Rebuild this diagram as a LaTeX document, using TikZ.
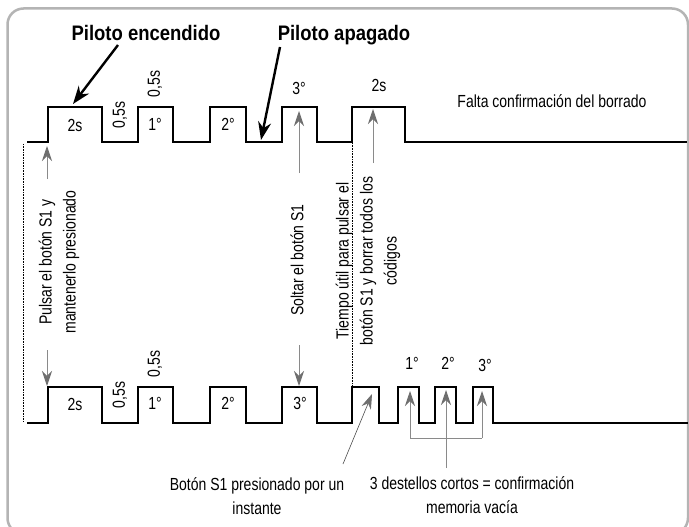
\documentclass[tikz,border=0pt]{standalone}
\usepackage{fontspec}
\setmainfont{Liberation Sans}[FakeStretch=0.8]
\newfontfamily\titlefont{Liberation Sans}[FakeStretch=0.88]
\usetikzlibrary{arrows.meta}
\definecolor{framegray}{HTML}{B4B4B4}
\definecolor{arrgray}{HTML}{8A8A8A}
\definecolor{headgray}{HTML}{6E6E6E}
\tikzset{
  wave/.style={line width=2.4pt, line join=miter},
  lbl/.style={font=\fontsize{17.5}{24}\selectfont, inner sep=0pt},
  rlbl/.style={lbl, rotate=90},
  titlelbl/.style={font=\titlefont\bfseries\fontsize{21}{24}\selectfont, inner sep=0pt},
  grayarrow/.style={draw=arrgray, line width=0.9pt, -{Stealth[length=15pt,width=10pt,color=headgray,fill=headgray]}},
  thinarrow/.style={draw=black!70, line width=0.6pt, -{Stealth[length=15pt,width=10pt,color=headgray,fill=headgray]}},
  blackarrow/.style={line width=2.4pt, -{Stealth[length=18pt,width=13pt]}},
  dotline/.style={densely dotted, line width=0.6pt},
}
\begin{document}
\begin{tikzpicture}[x=1pt,y=-1pt]
\useasboundingbox (0,0) rectangle (689,527);
\fill[white] (0,0) rectangle (689,527);
\draw[framegray, line width=2.5pt, rounded corners=16pt] (7.5,8.5) rectangle (688,534);

% top waveform
\draw[wave] (27,142) -- (48,142) -- (48,107) -- (102,107) -- (102,142) -- (138,142) -- (138,107) -- (173,107) -- (173,142) -- (210,142) -- (210,107) -- (246,107) -- (246,142) -- (282,142) -- (282,107) -- (317,107) -- (317,142) -- (352,142) -- (352,107) -- (405,107) -- (405,142) -- (687,142);

% bottom waveform
\draw[wave] (27,423) -- (48,423) -- (48,387) -- (102,387) -- (102,423) -- (138,423) -- (138,387) -- (173,387) -- (173,423) -- (210,423) -- (210,387) -- (246,387) -- (246,423) -- (282,423) -- (282,387) -- (317,387) -- (317,423) -- (352,423) -- (352,387) -- (379,387) -- (379,423) -- (398,423) -- (398,387) -- (419,387) -- (419,423) -- (435,423) -- (435,387) -- (456,387) -- (456,423) -- (473,423) -- (473,387) -- (493,387) -- (493,423) -- (688,423);

% dotted guides
\coordinate (d1a) at (23,144);
\coordinate (d1b) at (23,421);
\coordinate (d2a) at (352,143);
\coordinate (d2b) at (352,387);
\draw[dotline] (d1a) -- (d1b);
\draw[dotline] (d2a) -- (d2b);

% titles
\node[titlelbl] (t1) at (146,33) {Piloto encendido};
\node[titlelbl] (t2) at (344,35) {Piloto apagado};
\coordinate (t1s) at (118,45);
\coordinate (t1e) at (73,104);
\coordinate (t2s) at (280,47);
\coordinate (t2e) at (261,140);
\draw[blackarrow] (t1s) -- (t1e);
\draw[blackarrow] (t2s) -- (t2e);

% top labels
\node[lbl] (a2s) at (75,125) {2s};
\node[rlbl] (a05a) at (120,115) {0,5s};
\node[lbl] (a1) at (155,124) {1°};
\node[rlbl] (a05b) at (155,84) {0,5s};
\node[lbl] (a2) at (228,124) {2°};
\node[lbl] (a3) at (299,88) {3°};
\node[lbl] (a2sb) at (379,85) {2s};
\node[lbl] (falta) at (552,101) {Falta confirmación del borrado};

% bottom labels
\node[lbl] (b2s) at (75,404) {2s};
\node[rlbl] (b05a) at (120,395) {0,5s};
\node[lbl] (b1) at (155,403) {1°};
\node[rlbl] (b05b) at (155,364) {0,5s};
\node[lbl] (b2) at (228,403) {2°};
\node[lbl] (b3) at (300,403) {3°};
\node[lbl] (c1) at (412,363) {1°};
\node[lbl] (c2) at (448,363) {2°};
\node[lbl] (c3) at (485,365) {3°};

% rotated explanations
\node[rlbl, align=center] (pulsar) at (59,262) {Pulsar el botón S1 y\\mantenerlo presionado};
\node[rlbl] (soltar) at (297,260) {Soltar el botón S1};
\node[rlbl, align=center] (tiempo) at (368,261) {Tiempo útil para pulsar el\\botón S1 y borrar todos los\\códigos};

% bottom explanations
\node[lbl, align=center] (boton) at (257,496) {Botón S1 presionado por un\\instante};
\node[lbl, align=center] (dest) at (472,495) {3 destellos cortos = confirmación\\memoria vacía};

% gray arrows
\coordinate (g1s) at (47,179);  \coordinate (g1e) at (47,146);
\coordinate (g2s) at (47,350);  \coordinate (g2e) at (47,386);
\coordinate (g3s) at (299,173); \coordinate (g3e) at (299,111);
\coordinate (g4s) at (299,345); \coordinate (g4e) at (299,386);
\coordinate (g5s) at (373,163); \coordinate (g5e) at (373,109);
\draw[grayarrow] (g1s) -- (g1e);
\draw[grayarrow] (g2s) -- (g2e);
\draw[grayarrow] (g3s) -- (g3e);
\draw[grayarrow] (g4s) -- (g4e);
\draw[grayarrow] (g5s) -- (g5e);

% bracket for three short flashes
\coordinate (k1) at (410,438); \coordinate (k1e) at (410,391);
\coordinate (k3) at (482,438); \coordinate (k3e) at (482,391);
\coordinate (k2) at (446,468); \coordinate (k2e) at (446,390);
\draw[draw=arrgray, line width=0.9pt] (k1) -- (k3);
\draw[grayarrow] (k1) -- (k1e);
\draw[grayarrow] (k3) -- (k3e);
\draw[grayarrow] (k2) -- (k2e);

% thin arrow from "Botón S1 presionado"
\coordinate (bs) at (343,464);
\coordinate (be) at (372,394);
\draw[thinarrow] (bs) -- (be);
\end{tikzpicture}
\end{document}
